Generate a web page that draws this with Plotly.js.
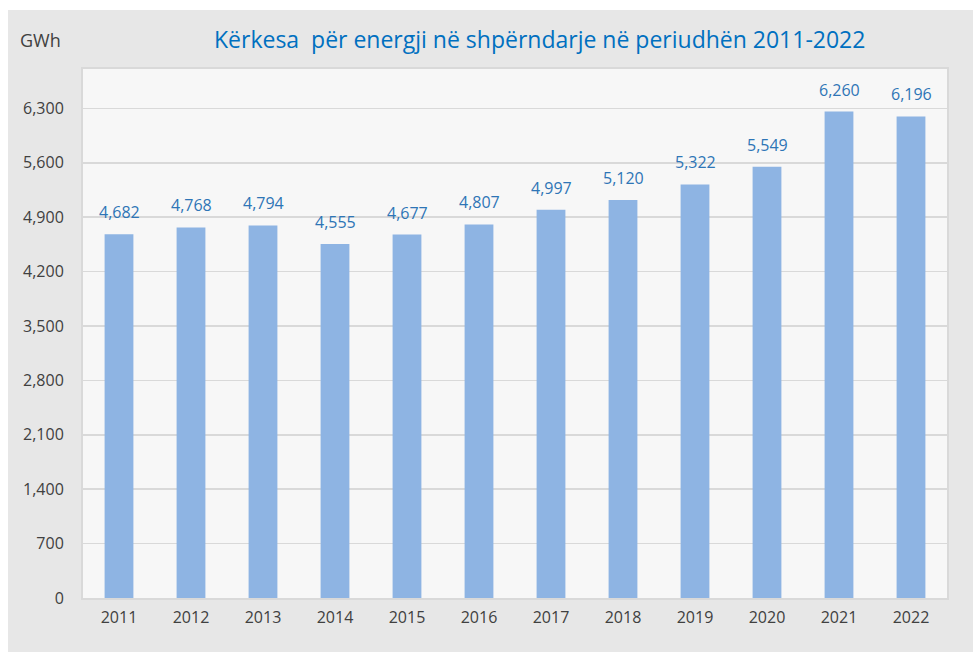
<!DOCTYPE html>
<html>
<head>
<meta charset="utf-8">
<script src="https://cdn.plot.ly/plotly-3.0.1.min.js"></script>
<style>
html,body{margin:0;padding:0;background:#ffffff;}
#chart{position:absolute;left:8px;top:10px;width:965px;height:642px;}
</style>
</head>
<body>
<div id="chart"></div>
<script>
const years = ['2011','2012','2013','2014','2015','2016','2017','2018','2019','2020','2021','2022'];
const demand = [4682, 4768, 4794, 4555, 4677, 4807, 4997, 5120, 5322, 5549, 6260, 6196];
const yTicks = [0, 700, 1400, 2100, 2800, 3500, 4200, 4900, 5600, 6300];
const titleText = 'Kërkesa  për energji në shpërndarje në periudhën 2011-2022';
const unitText = 'GWh';

const fmt = v => v.toLocaleString('en-US');

const trace = {
  type: 'bar',
  x: years,
  y: demand,
  marker: {color: '#8eb4e3'},
  hoverinfo: 'x+y'
};

const labels = years.map((yr, i) => ({
  x: i, y: demand[i], xref: 'x', yref: 'y',
  text: fmt(demand[i]), showarrow: false,
  yanchor: 'bottom', yshift: 9,
  font: {family: 'Open Sans, sans-serif', size: 16, color: '#2e75b6'}
}));

labels.push({
  x: -0.075, y: 1.055, xref: 'paper', yref: 'paper',
  xanchor: 'left', yanchor: 'middle',
  text: unitText, showarrow: false,
  font: {family: 'Open Sans, sans-serif', size: 18, color: '#404040'}
});

const layout = {
  width: 965, height: 642,
  margin: {l: 75, r: 26, t: 59, b: 54},
  paper_bgcolor: '#e7e7e7',
  plot_bgcolor: '#f7f7f7',
  title: {
    text: titleText,
    x: 0.551, xanchor: 'center', xref: 'container',
    y: 0.953, yanchor: 'middle', yref: 'container',
    font: {family: 'Open Sans, sans-serif', size: 23, color: '#0070c0'}
  },
  bargap: 0.6,
  showlegend: false,
  xaxis: {
    type: 'category',
    tickfont: {family: 'Open Sans, sans-serif', size: 16, color: '#404040'},
    showline: true, linecolor: '#d9d9d9', linewidth: 2, mirror: true,
    ticks: '', ticklabelstandoff: 4
  },
  yaxis: {
    range: [0, 6807],
    tickvals: yTicks,
    ticktext: yTicks.map(fmt),
    tickfont: {family: 'Open Sans, sans-serif', size: 16, color: '#404040'},
    gridcolor: '#d9d9d9', gridwidth: 1.5,
    zeroline: false,
    showline: true, linecolor: '#d9d9d9', linewidth: 2, mirror: true,
    ticks: '', ticklabelstandoff: 14
  },
  annotations: labels
};

Plotly.newPlot('chart', [trace], layout, {displayModeBar: false, staticPlot: true});
</script>
</body>
</html>
